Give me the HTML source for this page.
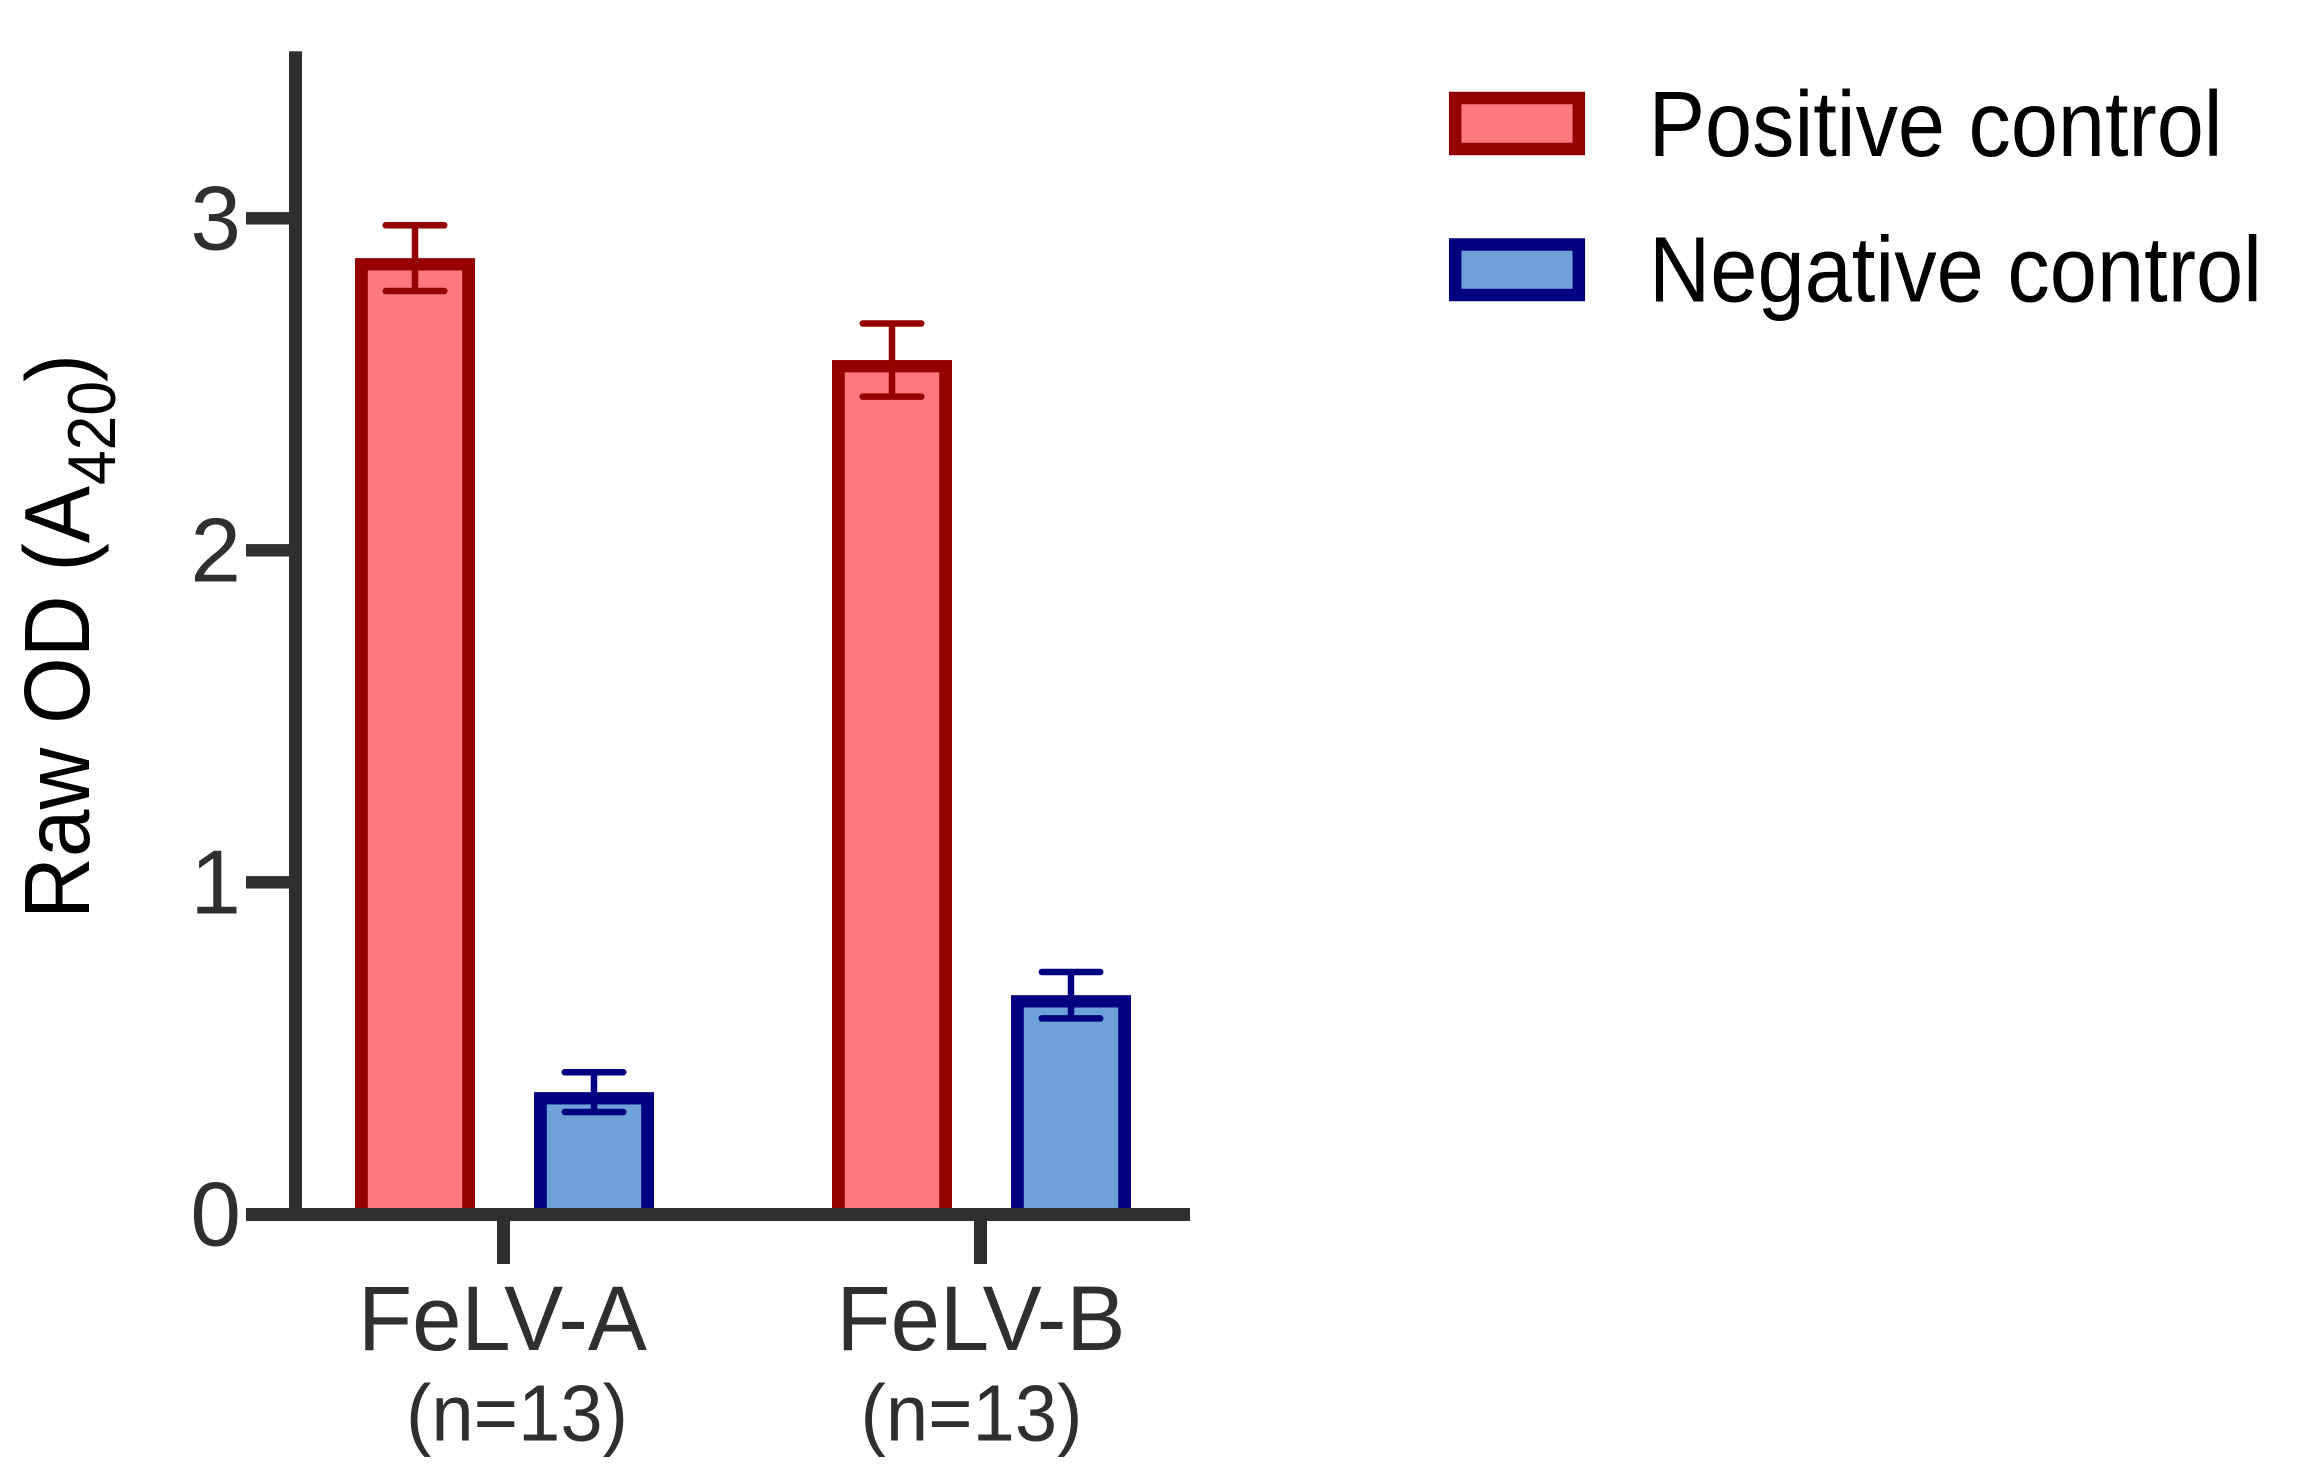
<!DOCTYPE html>
<html>
<head>
<meta charset="utf-8">
<title>Raw OD chart</title>
<style>
html,body{margin:0;padding:0;background:#fff;width:2297px;height:1473px;overflow:hidden}
svg{display:block}
text{font-family:"Liberation Sans",Arial,sans-serif}
</style>
</head>
<body>
<svg id="chart" xmlns="http://www.w3.org/2000/svg" width="2297" height="1473" viewBox="0 0 2297 1473">
  <rect x="0" y="0" width="2297" height="1473" fill="#ffffff"/>
  <g id="bars"></g>
  <g id="axes"></g>
  <g fill="#000000">
    <text transform="translate(89,919) rotate(-90)" font-size="93" textLength="433" lengthAdjust="spacingAndGlyphs">Raw OD (A</text>
    <text transform="translate(115,485) rotate(-90)" font-size="68" textLength="104" lengthAdjust="spacingAndGlyphs">420</text>
    <text transform="translate(89,382) rotate(-90)" font-size="90" textLength="28" lengthAdjust="spacingAndGlyphs">)</text>
  </g>
  <g id="legend">
    <g>
      <rect x="1455.200" y="98" width="123.600" height="51" fill="#FC7980" stroke="#950000" stroke-width="12.500"/>
      <text x="1648.600" y="156" font-size="93" fill="#000000" textLength="574" lengthAdjust="spacingAndGlyphs">Positive control</text>
    </g>
    <g>
      <rect x="1455.200" y="244.500" width="123.600" height="50.500" fill="#6DA1D7" stroke="#000080" stroke-width="12.500"/>
      <text x="1649" y="301.500" font-size="93" fill="#000000" textLength="613" lengthAdjust="spacingAndGlyphs">Negative control</text>
    </g>
  </g>
</svg>
<script>
const categories = ['FeLV-A', 'FeLV-B'];
const categoryNotes = ['(n=13)', '(n=13)'];
const positiveMeans = [2.88, 2.573];
const positiveErrors = [0.099, 0.11];
const negativeMeans = [0.368, 0.66];
const negativeErrors = [0.06, 0.07];
const yTicks = [0, 1, 2, 3];
const yMax = 3.5;

const NS = 'http://www.w3.org/2000/svg';
const barsLayer = document.getElementById('bars');
const axesLayer = document.getElementById('axes');
const AXIS = '#2F2F2F';

function yScale(v) { return 1214.3 - v * 332; }
function xScale(i) { return 503.5 + i * 477; }

function make(tag, attrs, parent) {
  const el = document.createElementNS(NS, tag);
  for (const k in attrs) el.setAttribute(k, attrs[k]);
  parent.appendChild(el);
  return el;
}

function drawBar(cx, mean, err, fill, stroke, key) {
  const w = 120, sideStroke = 12.8, topStroke = 12.3;
  const top = yScale(mean), base = yScale(0);
  const outer = make('rect', {x: cx - w/2, y: top, width: w, height: base - top, fill: stroke}, barsLayer);
  
  
  const inner = make('rect', {x: cx - w/2 + sideStroke, y: top + topStroke, width: w - 2 * sideStroke, height: base - top - topStroke, fill: fill}, barsLayer);
  
  
  const hi = yScale(mean + err), lo = yScale(mean - err);
  const stem = make('line', {x1: cx, x2: cx, y1: hi, y2: lo, stroke: stroke, 'stroke-width': 6.5}, barsLayer);
  
  
  [hi, lo].forEach(function (y) {
    const cap = make('line', {x1: cx - 29.25, x2: cx + 29.25, y1: y, y2: y, stroke: stroke, 'stroke-width': 6.5, 'stroke-linecap': 'round'}, barsLayer);
    
    
  });
}

categories.forEach(function (c, i) {
  const cx = xScale(i);
  drawBar(cx - 88.5, positiveMeans[i], positiveErrors[i], '#FC7980', '#950000', c.toLowerCase() + '-positive');
  drawBar(cx + 90.5, negativeMeans[i], negativeErrors[i], '#6DA1D7', '#000080', c.toLowerCase() + '-negative');
});

const yAxis = make('rect', {x: 289, y: yScale(yMax) - 1, width: 13, height: yScale(0) - yScale(yMax) + 1, fill: AXIS}, axesLayer);


const xAxis = make('rect', {x: 246, y: yScale(0) - 6.3, width: 944, height: 13, fill: AXIS}, axesLayer);



yTicks.forEach(function (t) {
  const y = yScale(t);
  const tick = make('rect', {x: 246, y: y - 6.2, width: 50, height: 12.4, fill: AXIS}, axesLayer);
  
  
  const label = make('text', {x: 241, y: y + 31, 'text-anchor': 'end', 'font-size': 91, fill: AXIS}, axesLayer);
  
  
  label.textContent = String(t);
});

categories.forEach(function (c, i) {
  const cx = xScale(i);
  const tick = make('rect', {x: cx - 6.5, y: yScale(0), width: 13, height: 49.7, fill: AXIS}, axesLayer);
  
  
  const label = make('text', {x: cx + (i === 0 ? -1 : 0.5), y: 1350, 'text-anchor': 'middle', 'font-size': 92, fill: AXIS, textLength: 289, lengthAdjust: 'spacingAndGlyphs'}, axesLayer);
  
  
  label.textContent = c;
  const note = make('text', {x: cx + (i === 0 ? 13.5 : -9), y: 1440.5, 'text-anchor': 'middle', 'font-size': 80, fill: AXIS, textLength: 222, lengthAdjust: 'spacingAndGlyphs'}, axesLayer);
  
  
  note.textContent = categoryNotes[i];
});
</script>
</body>
</html>
